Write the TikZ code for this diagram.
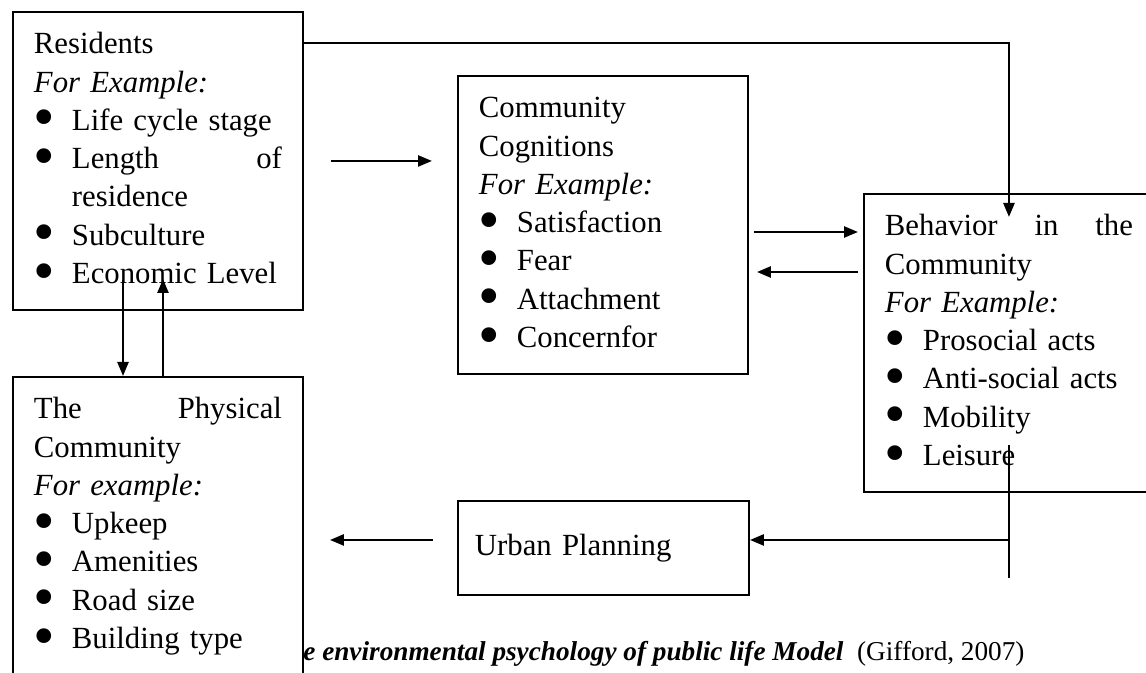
\documentclass[tikz,border=0pt]{standalone}
\usepackage{fontspec}
\setmainfont{Liberation Serif}
\usetikzlibrary{arrows.meta, calc}
\newcommand{\itm}[1]{\makebox[0.76cm][l]{\smash{\raisebox{-0.15cm}{\scalebox{2}{\textbullet}}}}#1}

\begin{document}
\begin{tikzpicture}[
	font=\fontsize{17.5pt}{21.8pt}\selectfont,
	block/.style={draw, line width=1.1pt, anchor=north west, text width=4.96cm, align=left,
		inner xsep=0.42cm, inner ysep=0.28cm, minimum height=5.96cm},
	arr/.style={line width=1.4pt, -{Triangle[length=0.28cm,width=0.22cm]}}]
	\useasboundingbox (0,0) rectangle (22.92,-13.46);
	\clip (0,0) rectangle (22.92,-13.46);

	\node[block] (res) at (0.24,-0.22) {\strut Residents\\ \textit{For Example:}\\ \itm{Life cycle stage}\\
		\itm{Length\hfill of}\\ \hspace*{0.76cm}residence\\ \itm{Subculture}\\ \itm{Economic Level}\strut};
	\node[block] (cog) at (9.14,-1.50) {\strut Community\\ Cognitions\\ \textit{For Example:}\\ \itm{Satisfaction}\\
		\itm{Fear}\\ \itm{Attachment}\\ \itm{Concernfor}\strut};
	\node[block] (beh) at (17.26,-3.86) {\strut Behavior\hfill in\hfill the\\ Community\\ \textit{For Example:}\\
		\itm{Prosocial acts}\\ \itm{Anti-social acts}\\ \itm{Mobility}\\ \itm{Leisure}\strut};
	\node[block] (phys) at (0.24,-7.52) {\strut The\hfill Physical\\ Community\\ \textit{For example:}\\
		\itm{Upkeep}\\ \itm{Amenities}\\ \itm{Road size}\\ \itm{Building type}\strut};
	\node[draw, line width=1.1pt, anchor=north west, text width=5.14cm, align=left, inner xsep=0.34cm,
		minimum height=1.88cm] (urb) at (9.14,-10.00) {Urban Planning};

	\node[anchor=base west, inner sep=0, font=\fontsize{15.5pt}{18pt}\selectfont] (cap) at (6.06,-13.20)
		{\textbf{\textit{e environmental psychology of public life Model}}\ \ (Gifford, 2007)};

	\draw[arr] ($(res.east)+(0.54,0)$) -- ($(res.east -| cog.west)+(-0.50,0)$);
	\draw[arr] ($(cog.north east)+(0.10,-3.14)$) -- ($(cog.north east -| beh.west)+(-0.10,-3.14)$);
	\draw[arr] ($(cog.north east -| beh.west)+(-0.10,-3.94)$) -- ($(cog.north east)+(0.16,-3.94)$);
	\draw[arr] ($(res.north east)+(0,-0.64)$) -| ($(beh.north)+(0,-0.48)$);

	\draw[arr] ($(phys.north west)+(2.22,1.92)$) -- ($(phys.north west)+(2.22,0)$);
	\draw[arr] ($(phys.north west)+(3.02,0)$) -- ($(phys.north west)+(3.02,1.94)$);

	\coordinate (drop) at ($(beh.south)+(0,-1.70)$);
	\draw[line width=1.4pt] ($(beh.south)+(0,0.96)$) -- (drop);
	\draw[arr] ($(urb.east -| drop)+(0,0.16)$) -- ($(urb.east)+(0,0.16)$);
	\draw[arr] ($(urb.west)+(-0.48,0.16)$) -- ($(urb.west -| phys.east)+(0.52,0.16)$);
\end{tikzpicture}
\end{document}
